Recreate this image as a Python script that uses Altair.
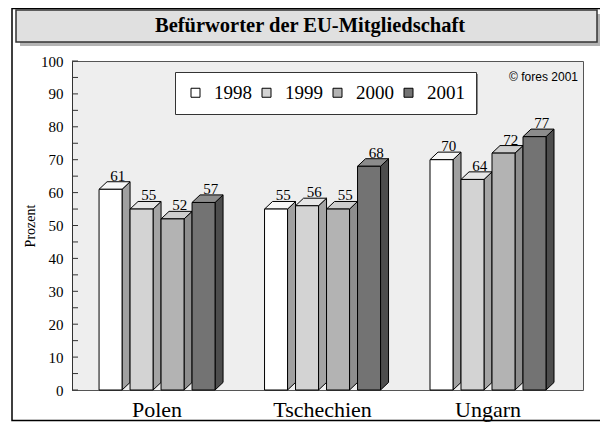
import altair as alt
import pandas as pd

# ---------------- data ----------------
categories = ["Polen", "Tschechien", "Ungarn"]
years = ["1998", "1999", "2000", "2001"]
values_1998 = [61, 55, 70]
values_1999 = [55, 56, 64]
values_2000 = [52, 55, 72]
values_2001 = [57, 68, 77]
y_label_values = list(range(0, 101, 10))
y_tick_values = list(range(0, 101, 5))
title_text = "Befürworter der EU-Mitgliedschaft"
credit_text = "© fores 2001"
axis_title = "Prozent"

# ---------------- styles ----------------
front_colors = ["#ffffff", "#d3d3d3", "#b3b3b3", "#737373"]
top_colors = ["#f7f7f7", "#e6e6e6", "#cdcdcd", "#8c8c8c"]
side_colors = ["#a0a0a0", "#a4a4a4", "#8e8e8e", "#4d4d4d"]
SERIF = "Liberation Serif"
SANS = "Liberation Sans"

# geometry in data units (x: category units, y: percent)
PX = 165.48
W = 23 / PX
P = 31 / PX
DX = 8 / PX
DY = 2.3
XDOM = [-0.514, 2.574]

series = [values_1998, values_1999, values_2000, values_2001]
front_rows, side_rows, top_rows = [], [], []
group_w = 3 * P + W
for i, cat in enumerate(categories):
    for j, yr in enumerate(years):
        v = series[j][i]
        xl = i - group_w / 2 + j * P
        xr = xl + W
        bar = f"{cat}-{yr}"
        front_rows.append(dict(cat=cat, year=yr, v=v, base=0, xl=xl, xr=xr,
                               lx=xl + W / 2 + DX * 0.9, ly=v + DY))
        side_rows.append(dict(bar=bar, year=yr, x=xr, y=v, y2=0))
        side_rows.append(dict(bar=bar, year=yr, x=xr + DX, y=v + DY, y2=DY))
        top_rows.append(dict(bar=bar, year=yr, y=v, x=xl, x2=xr))
        top_rows.append(dict(bar=bar, year=yr, y=v + DY, x=xl + DX, x2=xr + DX))

front_df = pd.DataFrame(front_rows)
side_df = pd.DataFrame(side_rows)
top_df = pd.DataFrame(top_rows)
cat_df = pd.DataFrame({"cat": categories, "idx": list(range(len(categories)))})
tick_df = pd.DataFrame({"t": y_tick_values})

xs = alt.Scale(domain=XDOM, nice=False, zero=False)
ys = alt.Scale(domain=[0, 100], nice=False)
y_axis = alt.Axis(
    values=y_label_values, title=axis_title, ticks=False, grid=False,
    labelFont=SERIF, labelFontSize=15, labelColor="#000000", labelPadding=9,
    domainColor="#333333", domainWidth=1,
    titleFont=SERIF, titleFontSize=14, titleFontWeight="normal", titleColor="#000000",
    titleAngle=270, titleAlign="center", titleBaseline="middle",
    titleX=-42, titleY=164.5)

# ---------------- decorations ----------------
decor = alt.Chart(pd.DataFrame({"d": [0]}))
frame = decor.mark_rect(fillOpacity=0, stroke="#000000", strokeWidth=1.5).encode(
    x=alt.value(-60), x2=alt.value(560), y=alt.value(-52.5), y2=alt.value(359.5))
title_shadow = decor.mark_rect(fill="#b4b4b4").encode(
    x=alt.value(-52), x2=alt.value(528), y=alt.value(-47), y2=alt.value(-15))
title_box = decor.mark_rect(fill="#e0e0e0", stroke="#333333", strokeWidth=1.5).encode(
    x=alt.value(-56), x2=alt.value(525), y=alt.value(-51), y2=alt.value(-19))
title = decor.mark_text(font=SERIF, fontSize=20.5, fontWeight="bold", color="#000000",
                        baseline="middle", align="center").encode(
    x=alt.value(238), y=alt.value(-35), text=alt.value(title_text))
credit = decor.mark_text(font=SANS, fontSize=12, color="#000000",
                         baseline="alphabetic", align="right").encode(
    x=alt.value(506), y=alt.value(20), text=alt.value(credit_text))
legend_shadow = decor.mark_rect(fill="#888888").encode(
    x=alt.value(105), x2=alt.value(406), y=alt.value(13), y2=alt.value(53))

# ---------------- bars ----------------
side = alt.Chart(side_df).mark_area(orient="vertical", stroke="#000000", strokeWidth=1,
                                    interpolate="linear").encode(
    x=alt.X("x:Q", scale=xs, axis=None),
    y=alt.Y("y:Q", scale=ys, stack=False, axis=y_axis),
    y2="y2:Q",
    fill=alt.Fill("year:N", scale=alt.Scale(domain=years, range=side_colors), legend=None),
    detail="bar:N",
)
top = alt.Chart(top_df).mark_area(orient="horizontal", stroke="#000000", strokeWidth=1,
                                  interpolate="linear").encode(
    y=alt.Y("y:Q", scale=ys, axis=y_axis),
    x=alt.X("x:Q", scale=xs, stack=False, axis=None),
    x2="x2:Q",
    fill=alt.Fill("year:N", scale=alt.Scale(domain=years, range=top_colors), legend=None),
    detail="bar:N",
)
front = alt.Chart(front_df).mark_rect(stroke="#000000", strokeWidth=1).encode(
    x=alt.X("xl:Q", scale=xs, axis=None),
    x2="xr:Q",
    y=alt.Y("v:Q", scale=ys, axis=y_axis),
    y2="base:Q",
    fill=alt.Fill("year:N", scale=alt.Scale(domain=years, range=front_colors),
                  legend=alt.Legend(
                      orient="none", legendX=103, legendY=11, direction="horizontal",
                      title=None, symbolType="square", symbolSize=81,
                      symbolStrokeColor="#000000", symbolStrokeWidth=1,
                      labelFont=SERIF, labelFontSize=19, labelColor="#000000",
                      labelOffset=9, columnPadding=5, padding=11,
                      fillColor="#ffffff", strokeColor="#333333")),
)
ticks = alt.Chart(tick_df).mark_rule(color="#333333", strokeWidth=1).encode(
    y=alt.Y("t:Q", scale=ys, axis=y_axis), x=alt.value(0), x2=alt.value(6))
value_labels = alt.Chart(front_df).mark_text(
    font=SERIF, fontSize=15, color="#000000", baseline="alphabetic", align="center", dy=-1
).encode(
    x=alt.X("lx:Q", scale=xs, axis=None),
    y=alt.Y("ly:Q", scale=ys, axis=y_axis),
    text="v:Q",
)
cat_labels = alt.Chart(cat_df).mark_text(
    font=SERIF, fontSize=22, color="#000000", baseline="alphabetic", align="center"
).encode(
    x=alt.X("idx:Q", scale=xs, axis=None),
    y=alt.value(356),
    text="cat:N",
)

chart = alt.layer(
    frame, title_shadow, title_box, title, side, top, front, ticks,
    value_labels, cat_labels, credit, legend_shadow,
).resolve_scale(fill="independent").properties(
    width=511, height=329,
    autosize=alt.AutoSizeParams(type="none"),
    padding={"left": 64, "top": 53, "right": 17, "bottom": 32},
).configure_view(
    fill="#eeeeee", stroke="#555555", strokeWidth=1
)

chart.save("out.html", embed_options={"renderer": "svg", "actions": False})
